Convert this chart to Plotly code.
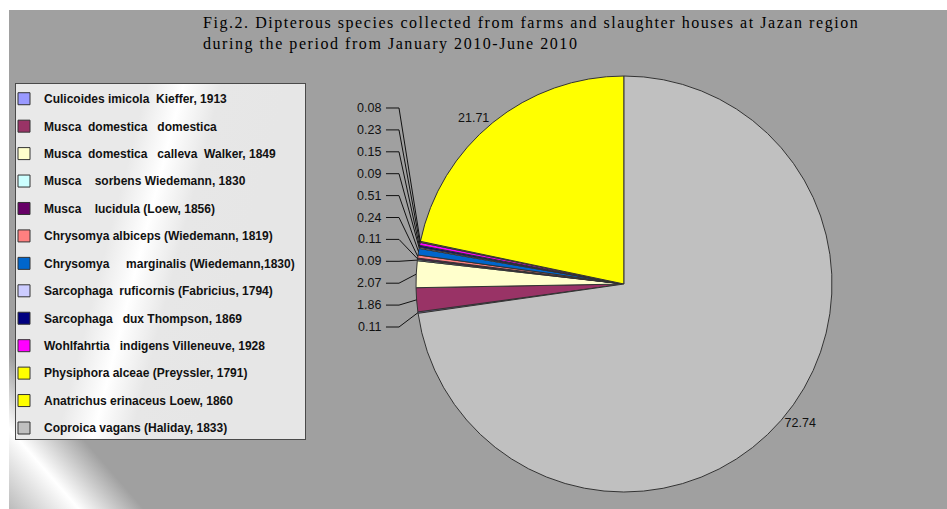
import base64
import math
import plotly.graph_objects as go

# ---------------- data ----------------
species = [
    "Culicoides imicola  Kieffer, 1913",
    "Musca  domestica   domestica",
    "Musca  domestica   calleva  Walker, 1849",
    "Musca    sorbens Wiedemann, 1830",
    "Musca    lucidula (Loew, 1856)",
    "Chrysomya albiceps (Wiedemann, 1819)",
    "Chrysomya     marginalis (Wiedemann,1830)",
    "Sarcophaga  ruficornis (Fabricius, 1794)",
    "Sarcophaga   dux Thompson, 1869",
    "Wohlfahrtia   indigens Villeneuve, 1928",
    "Physiphora alceae (Preyssler, 1791)",
    "Anatrichus erinaceus Loew, 1860",
    "Coproica vagans (Haliday, 1833)",
]
percent = [0.11, 1.86, 2.07, 0.09, 0.11, 0.24, 0.51, 0.09, 0.15, 0.23, 0.08, 21.71, 72.74]
colors = ["#9999FF", "#993366", "#FFFFCC", "#CCFFFF", "#660066", "#FF8080",
          "#0066CC", "#CCCCFF", "#000080", "#FF00FF", "#FFFF00", "#FFFF00", "#C0C0C0"]
title_lines = [
    "Fig.2. Dipterous species collected from farms and slaughter houses at Jazan region",
    "during the period from January 2010-June 2010",
]

W, H = 947, 509
SMALL = 5.0  # slices below this share get stacked leader-line labels

# background (gradient decoration)
svg = f"""<svg xmlns='http://www.w3.org/2000/svg' width='{W}' height='{H}' viewBox='0 0 {W} {H}'>
<defs>
<linearGradient id='bg' gradientUnits='userSpaceOnUse' x1='-256' y1='224' x2='-150' y2='132'>
<stop offset='0' stop-color='#B0B0B0'/>
<stop offset='0.086' stop-color='#BABABA'/>
<stop offset='0.471' stop-color='#FFFFFF'/>
<stop offset='0.821' stop-color='#A0A0A0'/>
<stop offset='1' stop-color='#A0A0A0'/>
</linearGradient>
<linearGradient id='lg' gradientUnits='userSpaceOnUse' x1='96.8' y1='24.9' x2='290.4' y2='74.7'>
<stop offset='0' stop-color='#E9E9E9'/>
<stop offset='0.32' stop-color='#E9E9E9'/>
<stop offset='0.495' stop-color='#FFFFFF'/>
<stop offset='0.68' stop-color='#E7E7E7'/>
<stop offset='1' stop-color='#E6E6E6'/>
</linearGradient>
</defs>
<rect x='0' y='0' width='{W}' height='{H}' fill='#FFFFFF'/>
<rect x='9' y='10' width='{W-9}' height='{H-10}' fill='url(#bg)'/>
<rect x='15.5' y='83.5' width='290' height='356' fill='url(#lg)' stroke='#4A4A4A' stroke-width='1'/>
</svg>"""
bg_uri = "data:image/svg+xml;base64," + base64.b64encode(svg.encode()).decode()

total = sum(percent)
rotation = 360 - 360 * sum(percent[:-1]) / total

legend_labels = [
    "<span style='font-size:12px;baseline-shift:3px'>" + s.replace("  ", "\u00a0 ") + "</span>"
    for s in species
]
title_text = "<br>".join(
    "<span style='letter-spacing:1.55px'>" + t + "</span>" for t in title_lines
)
slice_text = [f"{v:.2f}" if v >= SMALL else "" for v in percent]

label_font = dict(family="Liberation Sans, Arial, sans-serif", size=12.5, color="#111111")

cx, cy, r = 624, 284, 208
fig = go.Figure(go.Pie(
    labels=legend_labels,
    values=percent,
    sort=False,
    direction="clockwise",
    rotation=rotation,
    marker=dict(colors=colors, line=dict(color="#333333", width=1)),
    text=slice_text,
    textinfo="text",
    textposition="outside",
    textfont=label_font,
    domain=dict(x=[(cx - r) / W, (cx + r) / W], y=[(H - cy - r) / H, (H - cy + r) / H]),
    hoverinfo="label+value",
))

# stacked labels with leader lines for the thin slices
cum = 0.0
tips = []
for v in percent:
    a = math.radians(rotation + 360 * (cum + v / 2) / total)
    tips.append((cx + r * math.sin(a), cy - r * math.cos(a)))
    cum += v

small_idx = [i for i, v in enumerate(percent) if v < SMALL][::-1]
label_right, seg0, seg1 = 383, 386, 399
label_top, label_step = 108, 21.9
annotations, shapes = [], []
for k, i in enumerate(small_idx):
    ly = label_top + k * label_step
    tx, ty = tips[i]
    annotations.append(dict(x=label_right / W, y=1 - ly / H, xref="paper", yref="paper",
                            xanchor="right", yanchor="middle", showarrow=False,
                            text=f"{percent[i]:.2f}", font=label_font))
    path = (f"M {seg0 / W:.5f} {1 - ly / H:.5f} L {seg1 / W:.5f} {1 - ly / H:.5f} "
            f"L {tx / W:.5f} {1 - ty / H:.5f}")
    shapes.append(dict(type="path", path=path, xref="paper", yref="paper",
                       line=dict(color="#111111", width=1)))

fig.update_layout(
    width=W, height=H,
    margin=dict(l=0, r=0, t=0, b=0),
    paper_bgcolor="#FFFFFF",
    images=[dict(source=bg_uri, xref="paper", yref="paper", x=0, y=1, sizex=1, sizey=1,
                 sizing="stretch", layer="below", xanchor="left", yanchor="top")],
    title=dict(text=title_text, x=203 / W, xanchor="left", y=1 - 28 / H, yanchor="top",
               font=dict(family="Liberation Serif, Times New Roman, serif", size=16, color="#000000")),
    legend=dict(x=4 / W, xanchor="left", y=1 - 80 / H, yanchor="top",
                bgcolor="rgba(0,0,0,0)", borderwidth=0,
                font=dict(family="Liberation Sans, Arial, sans-serif", size=18.8, color="#111111",
                          weight="bold"),
                itemclick=False),
    annotations=annotations,
    shapes=shapes,
    showlegend=True,
)

fig.write_html("out.html")
